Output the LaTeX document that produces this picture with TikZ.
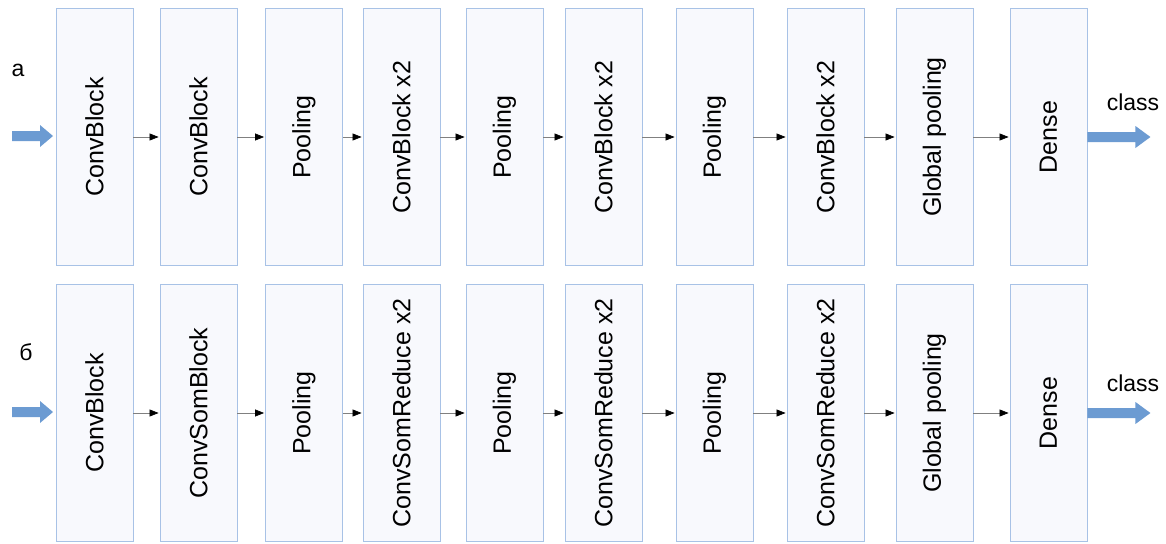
\documentclass[tikz,border=0pt]{standalone}
\usepackage{fontspec}
\setmainfont{Liberation Sans}
\usetikzlibrary{arrows.meta}
\definecolor{boxfill}{HTML}{F8F9FD}
\definecolor{boxline}{HTML}{A8C2E6}
\definecolor{bigarrow}{HTML}{6C9BD2}
\begin{document}
\begin{tikzpicture}[x=1pt,y=-1pt,
  layer/.style={draw=boxline, fill=boxfill, line width=0.9pt, minimum width=77pt, minimum height=257pt, inner sep=0pt, font=\fontsize{25}{28}\selectfont},
  conn/.style={draw=gray, line width=0.7pt, -{Triangle[length=9pt,width=7pt,color=black]}, shorten >=1pt},
  lbl/.style={font=\fontsize{23}{26}\selectfont, inner sep=0pt}]
\useasboundingbox (0,0) rectangle (1166,543);
\foreach \i/\x/\ta/\tb in {1/94.5/ConvBlock/ConvBlock, 2/198.5/ConvBlock/ConvSomBlock, 3/304/Pooling/Pooling, 4/401.5/ConvBlock x2/ConvSomReduce x2, 5/504.5/Pooling/Pooling, 6/603.5/ConvBlock x2/ConvSomReduce x2, 7/714.5/Pooling/Pooling, 8/825.5/ConvBlock x2/ConvSomReduce x2, 9/934.5/Global pooling/Global pooling, 10/1048.5/Dense/Dense} {
  \node[layer] (a\i) at (\x,137) {\rotatebox{90}{\ta}};
  \node[layer] (b\i) at (\x,413) {\rotatebox{90}{\tb}};
}
\foreach \i [evaluate=\i as \j using int(\i+1)] in {1,...,9} {
  \draw[conn] (a\i.east |- 0,137) -- (a\j.west |- 0,137);
  \draw[conn] (b\i.east |- 0,413) -- (b\j.west |- 0,413);
}
% row labels
\node[lbl] (la) at (18,70) {а};
\node[lbl] (lb) at (26,352) {б};
% input arrows
\coordinate (ina) at (12,136);
\coordinate (inb) at (12,412);
\fill[bigarrow] (ina) ++(0,-5) -- ++(28,0) -- ++(0,-6) -- ++(13,11) -- ++(-13,11) -- ++(0,-6) -- ++(-28,0) -- cycle;
\fill[bigarrow] (inb) ++(0,-5) -- ++(28,0) -- ++(0,-6) -- ++(13,11) -- ++(-13,11) -- ++(0,-6) -- ++(-28,0) -- cycle;
% output arrows
\fill[bigarrow] (a10.east |- 0,137) ++(0,-5) -- ++(48,0) -- ++(0,-6) -- ++(15,11) -- ++(-15,11) -- ++(0,-6) -- ++(-48,0) -- cycle;
\fill[bigarrow] (b10.east |- 0,413) ++(0,-5) -- ++(48,0) -- ++(0,-6) -- ++(15,11) -- ++(-15,11) -- ++(0,-6) -- ++(-48,0) -- cycle;
\node[lbl] (ca) at (1133,102) {class};
\node[lbl] (cb) at (1133,383) {class};
\end{tikzpicture}
\end{document}
